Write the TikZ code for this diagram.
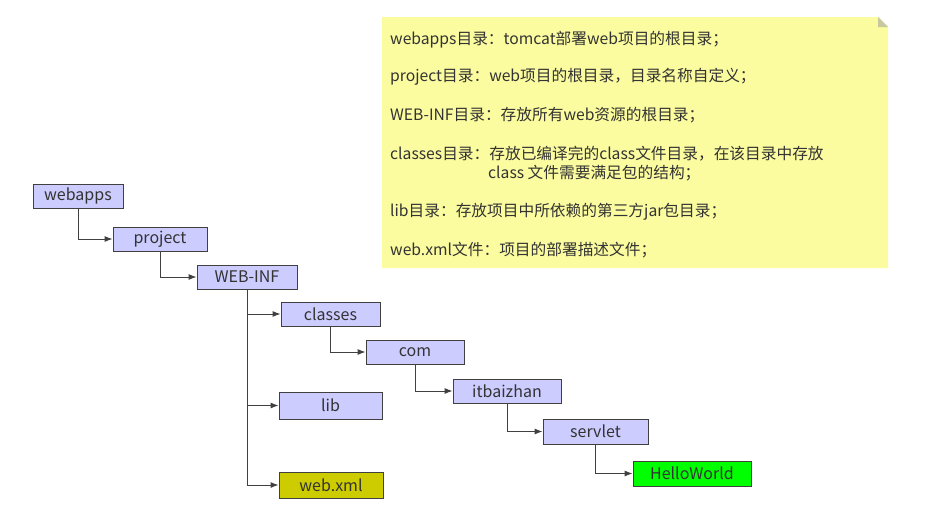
\documentclass[tikz,border=0pt]{standalone}
\usepackage{fontspec}
\setmainfont{Noto Sans CJK SC}
\usetikzlibrary{arrows.meta}
\definecolor{boxblue}{HTML}{CCCCFF}
\definecolor{boxolive}{HTML}{CCCC00}
\definecolor{boxgreen}{HTML}{00FF00}
\definecolor{edge}{HTML}{404040}
\definecolor{txt}{HTML}{333333}
\definecolor{notefill}{HTML}{FBFB9F}
\definecolor{foldc}{HTML}{C8C8A0}
\tikzset{
  folder/.style={draw=edge, line width=0.9pt, fill=boxblue, text=txt, font=\fontsize{16}{18}\selectfont, minimum height=24pt, inner sep=0pt, anchor=center},
  link/.style={draw=edge, line width=0.9pt, -{Latex[length=8pt,width=6pt]}},
  notetext/.style={anchor=west, text=txt, font=\fontsize{15.7}{18}\selectfont, inner sep=0pt}
}
\begin{document}
\begin{tikzpicture}[x=1pt,y=-1pt]
\useasboundingbox (0,0) rectangle (944,520);
% note
\fill[notefill] (382,17) -- (878,17) -- (888,27) -- (888,268) -- (382,268) -- cycle;
\fill[foldc] (878,17) -- (888,27) -- (878,27) -- cycle;
\node[notetext] (n1) at (390,40) {webapps目录：tomcat部署web项目的根目录；};
\node[notetext] (n2) at (390,77) {project目录：web项目的根目录，目录名称自定义；};
\node[notetext] (n3) at (390,115) {WEB-INF目录：存放所有web资源的根目录；};
\node[notetext] (n4) at (390,154) {classes目录：存放已编译完的class文件目录，在该目录中存放};
\node[notetext] (n4b) at (488,173) {class 文件需要满足包的结构；};
\node[notetext] (n5) at (390,212) {lib目录：存放项目中所依赖的第三方jar包目录；};
\node[notetext] (n6) at (390,250) {web.xml文件：项目的部署描述文件；};
% folders
\node[folder, minimum width=90pt] (webapps) at (78,196) {webapps};
\node[folder, minimum width=94pt] (project) at (160,239) {project};
\node[folder, minimum width=100pt] (webinf) at (247,277) {WEB-INF};
\node[folder, minimum width=99pt] (classes) at (330.5,314) {classes};
\node[folder, minimum width=98pt] (com) at (415,352) {com};
\node[folder, minimum width=108pt] (itb) at (507,391) {itbaizhan};
\node[folder, minimum width=103pt, minimum height=27pt] (lib) at (330.5,405.5) {lib};
\node[folder, minimum width=104pt, minimum height=26pt, fill=boxolive] (webxml) at (331,485) {web.xml};
\node[folder, minimum width=105pt, minimum height=25pt] (servlet) at (595.5,431.5) {servlet};
\node[folder, minimum width=118pt, minimum height=25pt, fill=boxgreen] (hello) at (692,473.5) {HelloWorld};
% connectors
\draw[link] (webapps.south) |- (project.west);
\draw[link] (project.south) |- (webinf.west);
\draw[link] (webinf.south) |- (classes.west);
\draw[link] (webinf.south) |- (lib.west);
\draw[link] (webinf.south) |- (webxml.west);
\draw[link] (classes.south) |- (com.west);
\draw[link] (com.south) |- (itb.west);
\draw[link] (itb.south) |- (servlet.west);
\draw[link] (servlet.south) |- (hello.west);
\end{tikzpicture}
\end{document}
